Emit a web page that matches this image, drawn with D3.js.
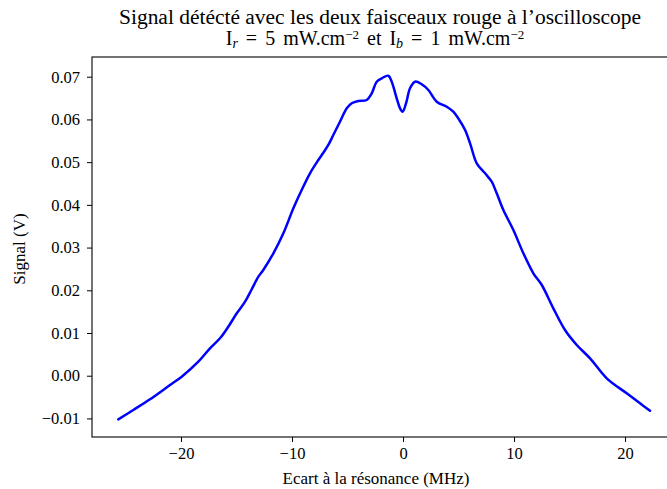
<!DOCTYPE html>
<html>
<head>
<meta charset="utf-8">
<script src="https://cdn.jsdelivr.net/npm/d3@7"></script>
<style>
  html, body { margin: 0; padding: 0; background: #fff; }
  svg text { font-family: "Liberation Serif", "DejaVu Serif", serif; fill: #000; }
</style>
</head>
<body>
<svg id="chart" width="667" height="489"></svg>
<script>
// Detuning (MHz) and detected signal (V)
const detuning = [
  -25.65, -24.30, -22.79, -20.99, -19.94, -18.44, -17.39, -16.49, -15.74, -14.98,
  -14.23, -13.63, -13.03, -12.59, -11.68, -10.78, -9.88, -9.13, -8.38, -7.63,
  -7.18, -6.73, -6.28, -5.68, -5.07, -4.62, -4.03, -3.27, -2.82, -2.37,
  -1.92, -1.32, -1.02, -0.57, -0.27, -0.03, 0.27, 0.63, 1.08, 1.68,
  2.28, 3.04, 3.94, 4.53, 5.07, 5.59, 6.04, 6.64, 7.39, 7.99,
  8.44, 9.04, 9.94, 10.84, 11.74, 12.50, 13.54, 14.59, 15.65, 16.85,
  18.35, 20.15, 21.35, 22.25
];
const signal = [
  -0.01021, -0.00803, -0.00553, -0.00218, -0.00023, 0.00328, 0.00642, 0.00876, 0.01147, 0.01461,
  0.01733, 0.02025, 0.02318, 0.02475, 0.02866, 0.03334, 0.03919, 0.04348, 0.04739, 0.05050,
  0.05221, 0.05402, 0.05636, 0.05947, 0.06261, 0.06378, 0.06432, 0.06455, 0.06612, 0.06884,
  0.06963, 0.07024, 0.06884, 0.06495, 0.06261, 0.06181, 0.06378, 0.06729, 0.06884, 0.06823,
  0.06689, 0.06415, 0.06298, 0.06181, 0.05987, 0.05753, 0.05441, 0.04973, 0.04739, 0.04542,
  0.04271, 0.03880, 0.03411, 0.02866, 0.02398, 0.02124, 0.01578, 0.01070, 0.00719, 0.00407,
  -0.00061, -0.00412, -0.00646, -0.00819
];
const xTicks = [-20, -10, 0, 10, 20];
const yTicks = [-0.01, 0.00, 0.01, 0.02, 0.03, 0.04, 0.05, 0.06, 0.07];
const titleLine1 = "Signal détécté avec les deux faisceaux rouge à l’oscilloscope";
const xLabel = "Ecart à la résonance (MHz)";
const yLabel = "Signal (V)";

const svg = d3.select("#chart");
const L = 92, R = 668, T = 57, B = 437;
const FONT = "'Liberation Serif', 'DejaVu Serif', serif";

const x = d3.scaleLinear().domain([-28.02, 23.87]).range([L, R]);
const y = d3.scaleLinear().domain([-0.01435, 0.07462]).range([B, T]);

const fmtX = d => (d < 0 ? "\u2212" : "") + Math.abs(d);
const fmtY = d => (d < -1e-9 ? "\u2212" : "") + Math.abs(d).toFixed(2);

// axes
const gx = svg.append("g").attr("transform", `translate(0,${B})`)
  .call(d3.axisBottom(x).tickValues(xTicks).tickFormat(fmtX).tickSize(5).tickPadding(5));
const gy = svg.append("g").attr("transform", `translate(${L},0)`)
  .call(d3.axisLeft(y).tickValues(yTicks).tickFormat(fmtY).tickSize(5).tickPadding(7));
[gx, gy].forEach(g => {
  g.attr("font-family", FONT).attr("font-size", 16.5);
  g.select(".domain").remove();
  g.selectAll("line").attr("stroke", "#000").attr("stroke-width", 1);
  g.selectAll("text").attr("fill", "#000");
});

// frame
svg.append("rect").attr("x", L).attr("y", T).attr("width", R - L).attr("height", B - T)
  .attr("fill", "none").attr("stroke", "#000").attr("stroke-width", 1.1);

// line
const pts = detuning.map((d, i) => [d, signal[i]]);
svg.append("path").datum(pts)
  .attr("fill", "none").attr("stroke", "#0000ff").attr("stroke-width", 2.5)
  .attr("stroke-linejoin", "round").attr("stroke-linecap", "round")
  .attr("d", d3.line().x(d => x(d[0])).y(d => y(d[1])).curve(d3.curveCatmullRom.alpha(0.5)));

// title
const cx = 380;
svg.append("text").attr("x", cx).attr("y", 24).attr("text-anchor", "middle")
  .attr("font-size", 20).attr("textLength", 522).attr("lengthAdjust", "spacingAndGlyphs")
  .text(titleLine1);
const t2 = svg.append("text").attr("x", cx - 5).attr("y", 45).attr("text-anchor", "middle")
  .attr("font-size", 20).attr("word-spacing", 3).attr("xml:space", "preserve");
t2.append("tspan").text("I");
t2.append("tspan").attr("font-size", 14).attr("font-style", "italic").attr("dy", 3).text("r");
t2.append("tspan").attr("dy", -3).text(" = 5 mW.cm");
t2.append("tspan").attr("font-size", 13).attr("dy", -6).text("\u22122");
t2.append("tspan").attr("dy", 6).text(" et I");
t2.append("tspan").attr("font-size", 14).attr("font-style", "italic").attr("dy", 3).text("b");
t2.append("tspan").attr("dy", -3).text(" = 1 mW.cm");
t2.append("tspan").attr("font-size", 13).attr("dy", -6).text("\u22122");

// axis labels
svg.append("text").attr("x", 376).attr("y", 484).attr("text-anchor", "middle")
  .attr("font-size", 17).text(xLabel);
svg.append("text").attr("transform", "translate(25,249) rotate(-90)").attr("text-anchor", "middle")
  .attr("font-size", 17).text(yLabel);
</script>
</body>
</html>
